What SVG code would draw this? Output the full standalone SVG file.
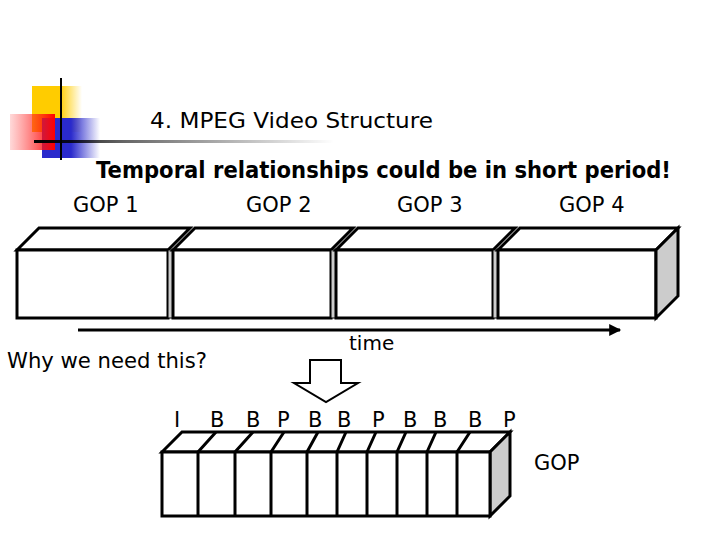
<svg xmlns="http://www.w3.org/2000/svg" width="720" height="540" viewBox="0 0 720 540">
<defs>
<style>
.t{font-family:"DejaVu Sans","Liberation Sans",sans-serif;fill:#000}
.s{fill:#fff;stroke:#000;stroke-width:3;stroke-linejoin:miter}
</style>
<linearGradient id="gy" x1="0" x2="1"><stop offset="0" stop-color="#ffcc00"/><stop offset="0.55" stop-color="#ffcc00"/><stop offset="1" stop-color="#ffcc00" stop-opacity="0"/></linearGradient>
<linearGradient id="gb" x1="0" x2="1"><stop offset="0" stop-color="#2a2acc"/><stop offset="0.5" stop-color="#2a2acc"/><stop offset="1" stop-color="#2a2acc" stop-opacity="0"/></linearGradient>
<linearGradient id="gr" x1="0" x2="1"><stop offset="0" stop-color="#ff4040" stop-opacity="0.2"/><stop offset="1" stop-color="#ff0000"/></linearGradient>
<linearGradient id="gl" x1="0" x2="1"><stop offset="0" stop-color="#000"/><stop offset="0.3" stop-color="#000" stop-opacity="0.6"/><stop offset="1" stop-color="#000" stop-opacity="0"/></linearGradient>
<marker id="ah" viewBox="0 0 10 10" refX="9" refY="5" markerWidth="5" markerHeight="4" orient="auto"><path d="M0,0L10,5L0,10z" fill="#000"/></marker>
</defs>
<g id="logo">
<rect x="32" y="86" width="50" height="46" fill="url(#gy)"/>
<rect x="42" y="118" width="58" height="40" fill="url(#gb)"/>
<rect x="10" y="114" width="45" height="36" fill="url(#gr)"/>
<line x1="61" y1="78" x2="61" y2="160" stroke="#000" stroke-width="2"/>
<rect x="34" y="140" width="300" height="3" fill="url(#gl)"/>
</g>
<g id="texts" xml:space="preserve">
<text class="t" x="150" y="128" font-size="21" textLength="283" lengthAdjust="spacingAndGlyphs">4.  MPEG  Video  Structure</text>
<text class="t" x="96" y="178" font-size="23" font-weight="bold" textLength="575" lengthAdjust="spacingAndGlyphs">Temporal relationships could be in short period!</text>
<text class="t" x="73" y="212" font-size="21">GOP 1</text>
<text class="t" x="246" y="212" font-size="21">GOP 2</text>
<text class="t" x="397" y="212" font-size="21">GOP 3</text>
<text class="t" x="559" y="212" font-size="21">GOP 4</text>
<text class="t" x="349" y="350" font-size="20">time</text>
<text class="t" x="7" y="368" font-size="21" textLength="200" lengthAdjust="spacingAndGlyphs">Why we need this?</text>
<text class="t" x="534" y="470" font-size="21">GOP</text>
<text class="t" x="174" y="427" font-size="21">I</text>
<text class="t" x="210" y="427" font-size="21">B</text>
<text class="t" x="246" y="427" font-size="21">B</text>
<text class="t" x="277" y="427" font-size="21">P</text>
<text class="t" x="308" y="427" font-size="21">B</text>
<text class="t" x="337" y="427" font-size="21">B</text>
<text class="t" x="372" y="427" font-size="21">P</text>
<text class="t" x="403" y="427" font-size="21">B</text>
<text class="t" x="433" y="427" font-size="21">B</text>
<text class="t" x="468" y="427" font-size="21">B</text>
<text class="t" x="503" y="427" font-size="21">P</text>
</g>
<g id="gop-boxes">
<polygon class="s" points="17,250 39,228 190,228 168,250"/>
<rect class="s" x="17" y="250" width="151" height="68"/>
<rect x="168" y="250" width="5" height="68" fill="#ccc" stroke="#000" stroke-width="1"/>
<polygon class="s" points="173,250 195,228 353,228 331,250"/>
<rect class="s" x="173" y="250" width="158" height="68"/>
<rect x="331" y="250" width="5" height="68" fill="#ccc" stroke="#000" stroke-width="1"/>
<polygon class="s" points="336,250 358,228 515,228 493,250"/>
<rect class="s" x="336" y="250" width="157" height="68"/>
<rect x="493" y="250" width="5" height="68" fill="#ccc" stroke="#000" stroke-width="1"/>
<polygon class="s" points="498,250 520,228 678,228 656,250"/>
<rect class="s" x="498" y="250" width="158" height="68"/>
<polygon class="s" points="656,250 678,228 678,296 656,318" style="fill:#ccc"/>
</g>
<g id="frames">
<polygon class="s" points="162,452 182,432 510,432 490,452"/>
<polygon class="s" points="490,452 510,432 510,496 490,516" style="fill:#ccc"/>
<rect class="s" x="162" y="452" width="328" height="64"/>
<g stroke="#000" stroke-width="3">
<path d="M198,452V516M198,452L216,432M235,452V516M235,452L253,432M271,452V516M271,452L284,432M307,452V516M307,452L318,432M337,452V516M337,452L346,432M367,452V516M367,452L376,432M397,452V516M397,452L406,432M427,452V516M427,452L436,432M457,452V516M457,452L470,432"/>
</g>
</g>
<g id="connectors">
<line x1="78" y1="330" x2="620" y2="330" stroke="#000" stroke-width="3" marker-end="url(#ah)"/>
<polygon points="310,360 341,360 341,383 358,383 326,402 294,383 310,383" fill="#fff" stroke="#000" stroke-width="2"/>
</g>
</svg>
